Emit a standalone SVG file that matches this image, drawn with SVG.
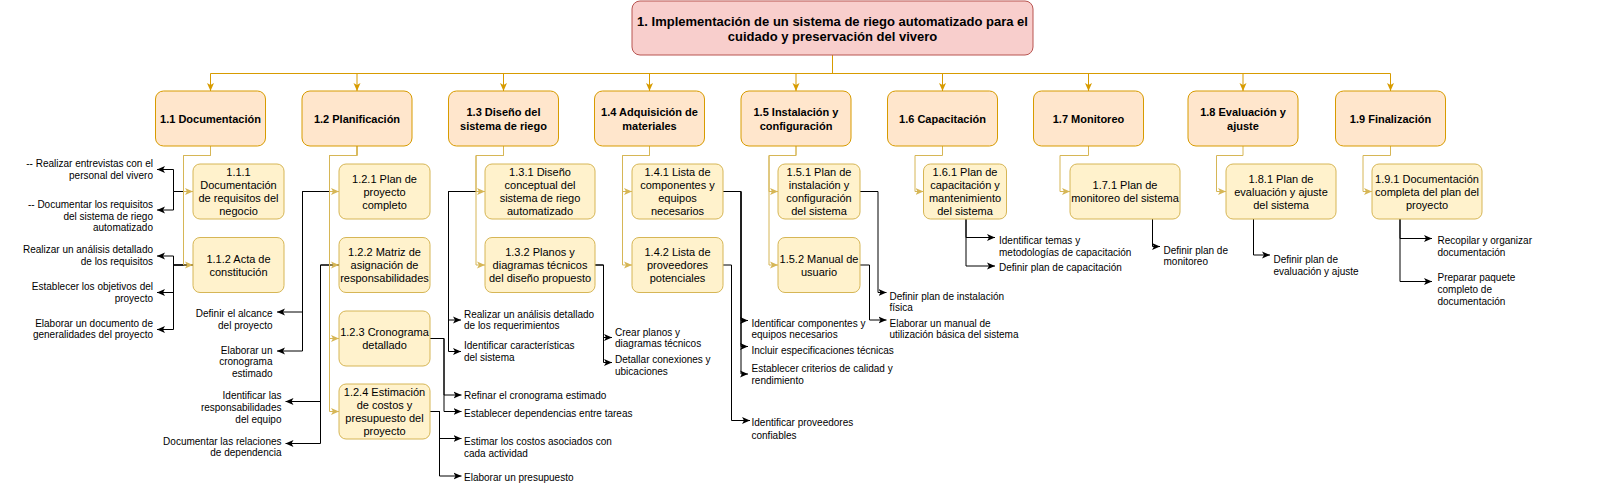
<svg xmlns="http://www.w3.org/2000/svg" width="1600" height="503" viewBox="0 0 1600 503">
<defs>
<style>
.root{fill:#f8cecc;stroke:#b85450;stroke-width:1}
.l1{fill:#ffe6cc;stroke:#d79b00;stroke-width:1}
.l2{fill:#fff2cc;stroke:#d6b656;stroke-width:1}
text{font-family:"Liberation Sans",Arial,Helvetica,sans-serif;fill:#000}
.tr{font-size:13px;font-weight:bold;text-anchor:middle}
.t1{font-size:11px;font-weight:bold;text-anchor:middle}
.t2{font-size:11px;text-anchor:middle}
.lf{font-size:10px}
.le{text-anchor:end}
.ls{text-anchor:start}
.cg{fill:none;stroke:#d79b00;stroke-width:1}
.cy{fill:none;stroke:#d6b656;stroke-width:1}
.ck{fill:none;stroke:#000;stroke-width:1}
</style>
<marker id="ag" viewBox="0 0 8 8" refX="8" refY="4" markerWidth="8" markerHeight="8" markerUnits="userSpaceOnUse" orient="auto"><path d="M0,0.5 L8,4 L0,7.5 L2,4 z" fill="#d79b00"/></marker>
<marker id="ay" viewBox="0 0 8 8" refX="8" refY="4" markerWidth="8" markerHeight="8" markerUnits="userSpaceOnUse" orient="auto"><path d="M0,0.5 L8,4 L0,7.5 L2,4 z" fill="#d6b656"/></marker>
<marker id="ak" viewBox="0 0 8 8" refX="8" refY="4" markerWidth="8" markerHeight="8" markerUnits="userSpaceOnUse" orient="auto"><path d="M0,0.5 L8,4 L0,7.5 L2,4 z" fill="#000"/></marker>
</defs>

<g id="connectors">
<!-- level 2 to leaves -->
<g class="ck" marker-end="url(#ak)">
<path d="M193,191.5 H173.5 V169.5 H157"/>
<path d="M193,191.5 H173.5 V210 H157"/>
<path d="M193,265 H173.5 V256 H157"/>
<path d="M193,265 H173.5 V292.5 H157"/>
<path d="M193,265 H173.5 V329.5 H157"/>
<path d="M339,191.5 H302.5 V312 H277"/>
<path d="M339,191.5 H302.5 V351 H277"/>
<path d="M339,265 H320.5 V401.5 H285.5"/>
<path d="M339,265 H320.5 V443.5 H285.5"/>
<path d="M430,338.5 H444 V395 H461.5"/>
<path d="M430,338.5 H444 V411.5 H461.5"/>
<path d="M430,411.5 H439.5 V438.5 H461.5"/>
<path d="M430,411.5 H439.5 V476 H461.5"/>
<path d="M485,191.5 H448.5 V320 H461"/>
<path d="M485,191.5 H448.5 V351.5 H461"/>
<path d="M595,265 H603.5 V337.5 H612"/>
<path d="M595,265 H603.5 V362.5 H612"/>
<path d="M723,191.5 H741 V320.5 H748"/>
<path d="M723,191.5 H741 V346.5 H748"/>
<path d="M723,191.5 H741 V374 H748"/>
<path d="M723,265 H731.5 V420.5 H750"/>
<path d="M860,191.5 H878 V292.5 H886.5"/>
<path d="M860,265 H869.5 V320 H886.5"/>
<path d="M966,219 V237.5 H995"/>
<path d="M966,219 V266 H995"/>
<path d="M1152.5,219 V246.5 H1160"/>
<path d="M1253.5,219 V255 H1270"/>
<path d="M1400,219 V238.5 H1432"/>
<path d="M1400,219 V281.5 H1432"/>
</g>
<!-- root to level 1 -->
<g class="cg" marker-end="url(#ag)">
<path d="M832.5,55 V73.5 H210.5 V91"/>
<path d="M832.5,55 V73.5 H357 V91"/>
<path d="M832.5,55 V73.5 H503.5 V91"/>
<path d="M832.5,55 V73.5 H649.5 V91"/>
<path d="M832.5,55 V73.5 H796 V91"/>
<path d="M832.5,55 V73.5 H942.5 V91"/>
<path d="M832.5,55 V73.5 H1088.5 V91"/>
<path d="M832.5,55 V73.5 H1243 V91"/>
<path d="M832.5,55 V73.5 H1390.5 V91"/>
</g>
<!-- level 1 to level 2 -->
<g class="cy" marker-end="url(#ay)">
<path d="M210.5,146 V155.5 H183.5 V191.5 H193"/>
<path d="M210.5,146 V155.5 H183.5 V265 H193"/>
<path d="M357,146 V155.5 H329.5 V191.5 H339"/>
<path d="M357,146 V155.5 H329.5 V265 H339"/>
<path d="M357,146 V155.5 H329.5 V338.5 H339"/>
<path d="M357,146 V155.5 H329.5 V411.5 H339"/>
<path d="M503.5,146 V155.5 H476 V191.5 H485"/>
<path d="M503.5,146 V155.5 H476 V265 H485"/>
<path d="M649.5,146 V155.5 H622.5 V191.5 H632"/>
<path d="M649.5,146 V155.5 H622.5 V265 H632"/>
<path d="M796,146 V155.5 H769 V191.5 H778"/>
<path d="M796,146 V155.5 H769 V265 H778"/>
<path d="M942.5,146 V155.5 H915 V191.5 H923.5"/>
<path d="M1088.5,146 V155.5 H1060 V191.5 H1070"/>
<path d="M1243,146 V155.5 H1216.5 V191.5 H1226"/>
<path d="M1390.5,146 V155.5 H1363 V191.5 H1372"/>
</g>
</g>

<g id="n1">
<rect class="root" x="632" y="1" width="401" height="54" rx="8"/>
<text class="tr"><tspan x="832.5" y="25.5">1. Implementación de un sistema de riego automatizado para el</tspan><tspan x="832.5" y="40.8">cuidado y preservación del vivero</tspan></text>
</g>

<g id="n1_1"><rect class="l1" x="155.5" y="91" width="110" height="55" rx="8"/><text class="t1" x="210.5" y="122.5">1.1 Documentación</text></g>
<g id="n1_2"><rect class="l1" x="302" y="91" width="110" height="55" rx="8"/><text class="t1" x="357" y="122.5">1.2 Planificación</text></g>
<g id="n1_3"><rect class="l1" x="448.5" y="91" width="110" height="55" rx="8"/><text class="t1"><tspan x="503.5" y="115.5">1.3 Diseño del</tspan><tspan x="503.5" y="129.5">sistema de riego</tspan></text></g>
<g id="n1_4"><rect class="l1" x="594.5" y="91" width="110" height="55" rx="8"/><text class="t1"><tspan x="649.5" y="115.5">1.4 Adquisición de</tspan><tspan x="649.5" y="129.5">materiales</tspan></text></g>
<g id="n1_5"><rect class="l1" x="741" y="91" width="110" height="55" rx="8"/><text class="t1"><tspan x="796" y="115.5">1.5 Instalación y</tspan><tspan x="796" y="129.5">configuración</tspan></text></g>
<g id="n1_6"><rect class="l1" x="887.5" y="91" width="110" height="55" rx="8"/><text class="t1" x="942.5" y="122.5">1.6 Capacitación</text></g>
<g id="n1_7"><rect class="l1" x="1033.5" y="91" width="110" height="55" rx="8"/><text class="t1" x="1088.5" y="122.5">1.7 Monitoreo</text></g>
<g id="n1_8"><rect class="l1" x="1188" y="91" width="110" height="55" rx="8"/><text class="t1"><tspan x="1243" y="115.5">1.8 Evaluación y</tspan><tspan x="1243" y="129.5">ajuste</tspan></text></g>
<g id="n1_9"><rect class="l1" x="1335.5" y="91" width="110" height="55" rx="8"/><text class="t1" x="1390.5" y="122.5">1.9 Finalización</text></g>

<g id="n1_1_1"><rect class="l2" x="193" y="164" width="91" height="55" rx="7"/><text class="t2"><tspan x="238.5" y="176">1.1.1</tspan><tspan x="238.5" y="189">Documentación</tspan><tspan x="238.5" y="202">de requisitos del</tspan><tspan x="238.5" y="215">negocio</tspan></text></g>
<g id="n1_1_2"><rect class="l2" x="193" y="237.5" width="91" height="55" rx="7"/><text class="t2"><tspan x="238.5" y="262.5">1.1.2 Acta de</tspan><tspan x="238.5" y="275.5">constitución</tspan></text></g>
<g id="n1_2_1"><rect class="l2" x="339" y="164" width="91" height="55" rx="7"/><text class="t2"><tspan x="384.5" y="182.5">1.2.1 Plan de</tspan><tspan x="384.5" y="195.5">proyecto</tspan><tspan x="384.5" y="208.5">completo</tspan></text></g>
<g id="n1_2_2"><rect class="l2" x="339" y="237.5" width="91" height="55" rx="7"/><text class="t2"><tspan x="384.5" y="256">1.2.2 Matriz de</tspan><tspan x="384.5" y="269">asignación de</tspan><tspan x="384.5" y="282">responsabilidades</tspan></text></g>
<g id="n1_2_3"><rect class="l2" x="339" y="311" width="91" height="55" rx="7"/><text class="t2"><tspan x="384.5" y="336">1.2.3 Cronograma</tspan><tspan x="384.5" y="349">detallado</tspan></text></g>
<g id="n1_2_4"><rect class="l2" x="339" y="384" width="91" height="55" rx="7"/><text class="t2"><tspan x="384.5" y="396">1.2.4 Estimación</tspan><tspan x="384.5" y="409">de costos y</tspan><tspan x="384.5" y="422">presupuesto del</tspan><tspan x="384.5" y="435">proyecto</tspan></text></g>
<g id="n1_3_1"><rect class="l2" x="485" y="164" width="110" height="55" rx="7"/><text class="t2"><tspan x="540" y="176">1.3.1 Diseño</tspan><tspan x="540" y="189">conceptual del</tspan><tspan x="540" y="202">sistema de riego</tspan><tspan x="540" y="215">automatizado</tspan></text></g>
<g id="n1_3_2"><rect class="l2" x="485" y="237.5" width="110" height="55" rx="7"/><text class="t2"><tspan x="540" y="256">1.3.2 Planos y</tspan><tspan x="540" y="269">diagramas técnicos</tspan><tspan x="540" y="282">del diseño propuesto</tspan></text></g>
<g id="n1_4_1"><rect class="l2" x="632" y="164" width="91" height="55" rx="7"/><text class="t2"><tspan x="677.5" y="176">1.4.1 Lista de</tspan><tspan x="677.5" y="189">componentes y</tspan><tspan x="677.5" y="202">equipos</tspan><tspan x="677.5" y="215">necesarios</tspan></text></g>
<g id="n1_4_2"><rect class="l2" x="632" y="237.5" width="91" height="55" rx="7"/><text class="t2"><tspan x="677.5" y="256">1.4.2 Lista de</tspan><tspan x="677.5" y="269">proveedores</tspan><tspan x="677.5" y="282">potenciales</tspan></text></g>
<g id="n1_5_1"><rect class="l2" x="778" y="164" width="82" height="55" rx="7"/><text class="t2"><tspan x="819" y="176">1.5.1 Plan de</tspan><tspan x="819" y="189">instalación y</tspan><tspan x="819" y="202">configuración</tspan><tspan x="819" y="215">del sistema</tspan></text></g>
<g id="n1_5_2"><rect class="l2" x="778" y="237.5" width="82" height="55" rx="7"/><text class="t2"><tspan x="819" y="262.5">1.5.2 Manual de</tspan><tspan x="819" y="275.5">usuario</tspan></text></g>
<g id="n1_6_1"><rect class="l2" x="923.5" y="164" width="83" height="55" rx="7"/><text class="t2"><tspan x="965" y="176">1.6.1 Plan de</tspan><tspan x="965" y="189">capacitación y</tspan><tspan x="965" y="202">mantenimiento</tspan><tspan x="965" y="215">del sistema</tspan></text></g>
<g id="n1_7_1"><rect class="l2" x="1070" y="164" width="110" height="55" rx="7"/><text class="t2"><tspan x="1125" y="189">1.7.1 Plan de</tspan><tspan x="1125" y="202">monitoreo del sistema</tspan></text></g>
<g id="n1_8_1"><rect class="l2" x="1226" y="164" width="110" height="55" rx="7"/><text class="t2"><tspan x="1281" y="182.5">1.8.1 Plan de</tspan><tspan x="1281" y="195.5">evaluación y ajuste</tspan><tspan x="1281" y="208.5">del sistema</tspan></text></g>
<g id="n1_9_1"><rect class="l2" x="1372" y="164" width="110" height="55" rx="7"/><text class="t2"><tspan x="1427" y="182.5">1.9.1 Documentación</tspan><tspan x="1427" y="195.5">completa del plan del</tspan><tspan x="1427" y="208.5">proyecto</tspan></text></g>

<g id="leaves">
<text class="lf le"><tspan x="153" y="167">-- Realizar entrevistas con el</tspan><tspan x="153" y="178.5">personal del vivero</tspan></text>
<text class="lf le"><tspan x="153" y="207.5">-- Documentar los requisitos</tspan><tspan x="153" y="219.5">del sistema de riego</tspan><tspan x="153" y="231">automatizado</tspan></text>
<text class="lf le"><tspan x="153" y="253">Realizar un análisis detallado</tspan><tspan x="153" y="264.5">de los requisitos</tspan></text>
<text class="lf le"><tspan x="153" y="290">Establecer los objetivos del</tspan><tspan x="153" y="301.5">proyecto</tspan></text>
<text class="lf le"><tspan x="153" y="326.5">Elaborar un documento de</tspan><tspan x="153" y="338">generalidades del proyecto</tspan></text>
<text class="lf le"><tspan x="272.5" y="317">Definir el alcance</tspan><tspan x="272.5" y="328.5">del proyecto</tspan></text>
<text class="lf le"><tspan x="272.5" y="353.5">Elaborar un</tspan><tspan x="272.5" y="365">cronograma</tspan><tspan x="272.5" y="377">estimado</tspan></text>
<text class="lf le"><tspan x="281.5" y="399">Identificar las</tspan><tspan x="281.5" y="411">responsabilidades</tspan><tspan x="281.5" y="422.5">del equipo</tspan></text>
<text class="lf le"><tspan x="281.5" y="444.5">Documentar las relaciones</tspan><tspan x="281.5" y="456">de dependencia</tspan></text>
<text class="lf ls" x="464" y="399">Refinar el cronograma estimado</text>
<text class="lf ls" x="464" y="417">Establecer dependencias entre tareas</text>
<text class="lf ls"><tspan x="464" y="444.5">Estimar los costos asociados con</tspan><tspan x="464" y="457">cada actividad</tspan></text>
<text class="lf ls" x="464" y="481">Elaborar un presupuesto</text>
<text class="lf ls"><tspan x="464" y="317.5">Realizar un análisis detallado</tspan><tspan x="464" y="328.5">de los requerimientos</tspan></text>
<text class="lf ls"><tspan x="464" y="348.5">Identificar características</tspan><tspan x="464" y="361">del sistema</tspan></text>
<text class="lf ls"><tspan x="615" y="336">Crear planos y</tspan><tspan x="615" y="347">diagramas técnicos</tspan></text>
<text class="lf ls"><tspan x="615" y="363">Detallar conexiones y</tspan><tspan x="615" y="374.5">ubicaciones</tspan></text>
<text class="lf ls"><tspan x="751.5" y="327">Identificar componentes y</tspan><tspan x="751.5" y="338">equipos necesarios</tspan></text>
<text class="lf ls" x="751.5" y="353.5">Incluir especificaciones técnicas</text>
<text class="lf ls"><tspan x="751.5" y="372">Establecer criterios de calidad y</tspan><tspan x="751.5" y="383.5">rendimiento</tspan></text>
<text class="lf ls"><tspan x="751.5" y="426">Identificar proveedores</tspan><tspan x="751.5" y="438.5">confiables</tspan></text>
<text class="lf ls"><tspan x="889.5" y="299.5">Definir plan de instalación</tspan><tspan x="889.5" y="310.5">física</tspan></text>
<text class="lf ls"><tspan x="889.5" y="327">Elaborar un manual de</tspan><tspan x="889.5" y="337.5">utilización básica del sistema</tspan></text>
<text class="lf ls"><tspan x="999" y="244">Identificar temas y</tspan><tspan x="999" y="256">metodologías de capacitación</tspan></text>
<text class="lf ls" x="999" y="271">Definir plan de capacitación</text>
<text class="lf ls"><tspan x="1163.5" y="253.5">Definir plan de</tspan><tspan x="1163.5" y="265">monitoreo</tspan></text>
<text class="lf ls"><tspan x="1273.5" y="262.5">Definir plan de</tspan><tspan x="1273.5" y="274.5">evaluación y ajuste</tspan></text>
<text class="lf ls"><tspan x="1437.5" y="244">Recopilar y organizar</tspan><tspan x="1437.5" y="256">documentación</tspan></text>
<text class="lf ls"><tspan x="1437.5" y="281">Preparar paquete</tspan><tspan x="1437.5" y="293">completo de</tspan><tspan x="1437.5" y="304.5">documentación</tspan></text>
</g>
</svg>
